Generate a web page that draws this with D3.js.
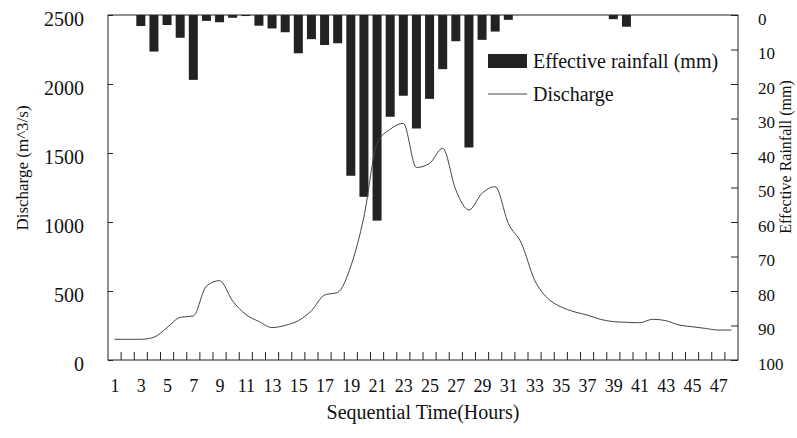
<!DOCTYPE html>
<html>
<head>
<meta charset="utf-8">
<script src="https://cdn.jsdelivr.net/npm/d3@7"></script>
<style>
  body { margin: 0; background: #fff; }
  text { font-family: "Liberation Serif", "DejaVu Serif", serif; fill: #111; }
</style>
</head>
<body>
<div id="chart"></div>
<script>
var hours = d3.range(1, 49);
var discharge = [150, 150, 150, 165, 235, 309, 319, 536, 575, 427, 330, 279,
  235, 251, 285, 357, 471, 490, 680, 1038, 1570, 1672, 1715, 1395,
  1425, 1534, 1232, 1087, 1208, 1256, 990, 845, 580, 447, 386, 350,
  326, 295, 278, 273, 270, 295, 285, 254, 241, 229, 217, 217];
var rainfall = [0, 0, 3.2, 10.6, 2.9, 6.6, 18.8, 1.7, 2.1, 0.8, 0.3, 3.1,
  3.9, 5.0, 11.1, 7.0, 8.7, 8.2, 46.6, 52.7, 59.6, 29.5, 23.4, 32.9,
  24.3, 15.7, 7.6, 38.4, 7.2, 4.8, 1.4, 0, 0, 0, 0, 0,
  0, 0, 1.2, 3.4, 0, 0, 0, 0, 0, 0, 0, 0];
var hourLabels = d3.range(1, 48, 2);
var qTicks = [0, 500, 1000, 1500, 2000, 2500];
var rTicks = d3.range(0, 101, 10);

// plot box (window.top is reserved, so no "top" here)
var plotL = 108, plotR = 738, plotT = 15, plotB = 360;

var svg = d3.select("#chart").append("svg")
  .attr("width", 797)
  .attr("height", 438);

var x = d3.scaleLinear().domain([0.5, 48.5]).range([plotL, plotR]);
var yQ = d3.scaleLinear().domain([0, 2500]).range([plotB, plotT]);
var yR = d3.scaleLinear().domain([0, 100]).range([plotT, plotB]);

// frame
svg.append("rect")
  .attr("x", plotL).attr("y", plotT)
  .attr("width", plotR - plotL).attr("height", plotB - plotT)
  .attr("fill", "none").attr("stroke", "#222").attr("stroke-width", 1);

// rainfall bars hanging from top
var barW = 9;
svg.append("g").selectAll("rect")
  .data(hours.filter(function(h){ return rainfall[h-1] > 0; }))
  .enter().append("rect")
    .attr("x", function(h){ return x(h) - barW/2; })
    .attr("y", yR(0))
    .attr("width", barW)
    .attr("height", function(h){ return yR(rainfall[h-1]) - yR(0); })
    .attr("fill", "#222");

// discharge line
var line = d3.line()
  .x(function(d, i){ return x(hours[i]); })
  .y(function(d){ return yQ(d); })
  .curve(d3.curveMonotoneX);

svg.append("path")
  .datum(discharge)
  .attr("d", line)
  .attr("fill", "none")
  .attr("stroke", "#444")
  .attr("stroke-width", 1);

// x axis
var gx = svg.append("g")
  .attr("transform", "translate(0," + plotB + ")")
  .call(d3.axisBottom(x).tickValues(hourLabels).tickSize(0).tickPadding(19));
gx.select(".domain").remove();
gx.selectAll("text").style("font-size", "18px").style("font-family", "Liberation Serif").attr("fill", "#111");

// x inner ticks at hour boundaries
svg.append("g").selectAll("line")
  .data(d3.range(1, 48))
  .enter().append("line")
    .attr("x1", function(h){ return x(h + 0.5); })
    .attr("x2", function(h){ return x(h + 0.5); })
    .attr("y1", plotB)
    .attr("y2", plotB - 8)
    .attr("stroke", "#222");

// left axis
var gl = svg.append("g")
  .attr("transform", "translate(" + plotL + ",0)")
  .call(d3.axisLeft(yQ).tickValues(qTicks).tickFormat(d3.format("d")).tickSize(-5).tickPadding(24));
gl.select(".domain").remove();
gl.selectAll("line").attr("stroke", "#222");
gl.selectAll("text").style("font-size", "20px").style("font-family", "Liberation Serif").attr("fill", "#111").attr("dy", "0.5em");

// right axis
var gr = svg.append("g")
  .attr("transform", "translate(" + plotR + ",0)")
  .call(d3.axisRight(yR).tickValues(rTicks).tickSize(-7).tickPadding(20));
gr.select(".domain").remove();
gr.selectAll("line").attr("stroke", "#222");
gr.selectAll("text").style("font-size", "17px").style("font-family", "Liberation Serif").attr("fill", "#111").attr("dy", "0.55em");

// axis titles
svg.append("text")
  .text("Sequential Time(Hours)")
  .attr("x", 423).attr("y", 419)
  .attr("text-anchor", "middle")
  .style("font-size", "20px");

svg.append("text")
  .text("Discharge (m^3/s)")
  .attr("transform", "translate(28,168) rotate(-90)")
  .attr("text-anchor", "middle")
  .style("font-size", "17px");

svg.append("text")
  .text("Effective Rainfall (mm)")
  .attr("transform", "translate(791,157) rotate(-90)")
  .attr("text-anchor", "middle")
  .style("font-size", "16px");

// legend
svg.append("rect")
  .attr("x", 488).attr("y", 54)
  .attr("width", 39).attr("height", 14)
  .attr("fill", "#222");
svg.append("text")
  .text("Effective rainfall (mm)")
  .attr("x", 533).attr("y", 68)
  .style("font-size", "20px");
svg.append("line")
  .attr("x1", 488).attr("x2", 527)
  .attr("y1", 94).attr("y2", 94)
  .attr("stroke", "#444");
svg.append("text")
  .text("Discharge")
  .attr("x", 533).attr("y", 101)
  .style("font-size", "20px");
</script>
</body>
</html>
